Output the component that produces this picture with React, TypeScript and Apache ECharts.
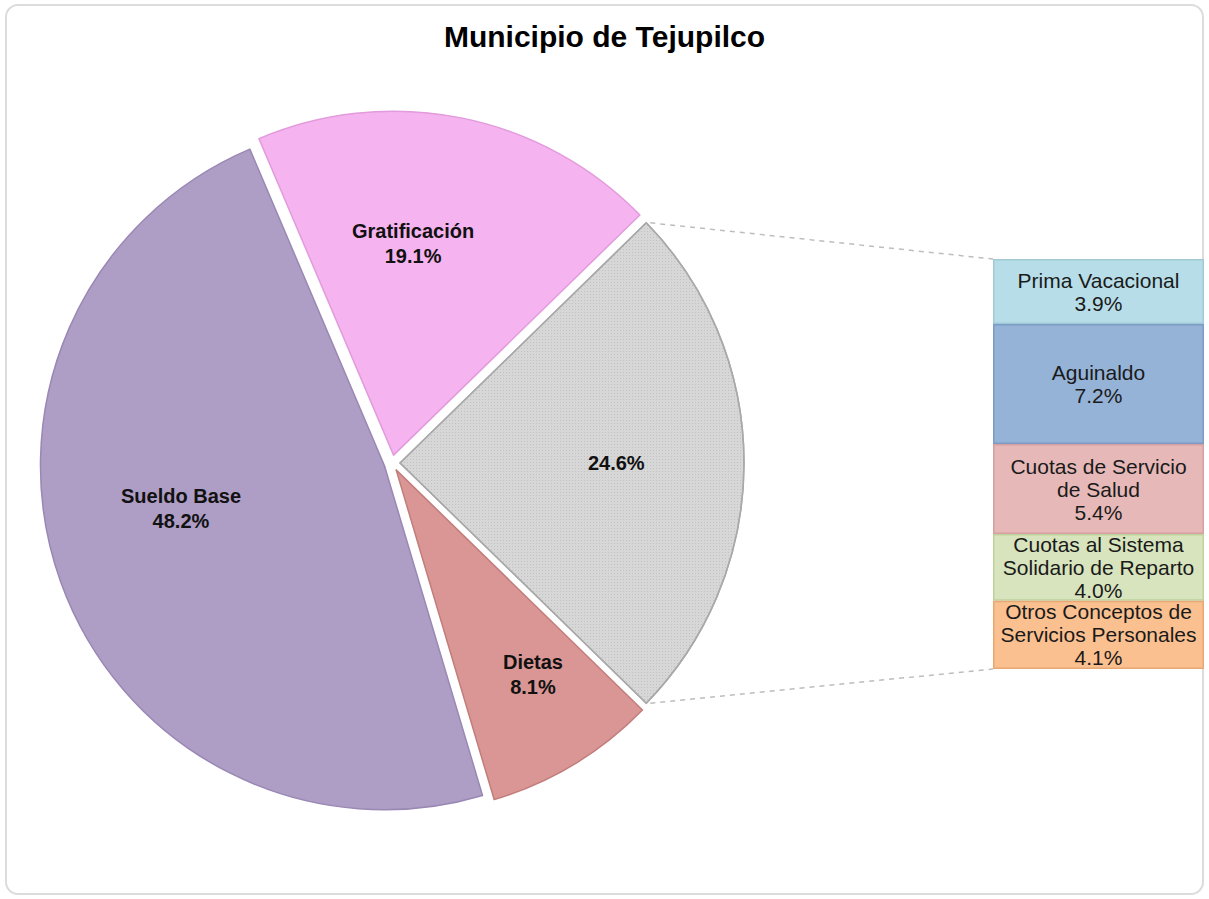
import React, { useEffect, useRef } from "react";
import * as echarts from "echarts";

const chartTitle = "Municipio de Tejupilco";

// Pie (main) slices, clockwise from the grouped "Otros" slice
const pieNames = ["Otros", "Dietas", "Sueldo Base", "Gratificación"];
const pieValues = [24.6, 8.1, 48.2, 19.1];
const pieColors = ["#d7d7d7", "#d99694", "#ae9dc5", "#f5b4ef"];
const pieBorders = ["#a9a9a9", "#c27d7b", "#9a88b4", "#e29bdc"];

// Breakdown of the "Otros" slice (stacked bar, top to bottom)
const barNames = [
  "Prima Vacacional",
  "Aguinaldo",
  "Cuotas de Servicio de Salud",
  "Cuotas al Sistema Solidario de Reparto",
  "Otros Conceptos de Servicios Personales",
];
const barLabels = [
  "Prima Vacacional",
  "Aguinaldo",
  "Cuotas de Servicio\nde Salud",
  "Cuotas al Sistema\nSolidario de Reparto",
  "Otros Conceptos de\nServicios Personales",
];
const barValues = [3.9, 7.2, 5.4, 4.0, 4.1];
const barColors = ["#b7dee8", "#95b3d7", "#e6b9b8", "#d7e4bd", "#fac090"];
const barBorders = ["#9fcad6", "#7c9cc6", "#d5a09f", "#bfd19c", "#e8a873"];

const FONT = "'Liberation Sans', Arial, Helvetica, sans-serif";

export default function App() {
  const ref = useRef<HTMLDivElement>(null);

  useEffect(() => {
    if (!ref.current) return;
    const chart = echarts.init(ref.current, undefined, { renderer: "svg" });

    const CX = 392;
    const CY = 463;
    const R = 344;
    const OFFSET = 8;
    const BAR_LEFT = 993;
    const BAR_TOP = 259;
    const BAR_W = 211;
    const BAR_H = 410;

    const total = pieValues.reduce((a, b) => a + b, 0);
    const barTotal = barValues.reduce((a, b) => a + b, 0);
    // center the grouped slice on 3 o'clock
    const startAngle = (pieValues[0] / total) * 180;
    const startCompass = ((90 - startAngle) * Math.PI) / 180;
    const endCompass = ((90 + startAngle) * Math.PI) / 180;
    const p1 = [CX + OFFSET + R * Math.sin(startCompass), CY - R * Math.cos(startCompass)];
    const p2 = [CX + OFFSET + R * Math.sin(endCompass), CY - R * Math.cos(endCompass)];

    const pieData = pieNames.map((n, i) => ({
      name: n,
      value: pieValues[i],
      selected: true,
      itemStyle: { color: pieColors[i], borderColor: pieBorders[i], borderWidth: 1.5 },
    }));
    pieData[0].itemStyle = {
      ...pieData[0].itemStyle,
      decal: {
        symbol: "rect",
        symbolSize: 1,
        dashArrayX: [1, 2],
        dashArrayY: [1, 2],
        color: "rgba(150,150,150,0.35)",
      },
    } as any;

    // label nudges so the texts sit where the reference places them
    const labelPads: number[][] = [
      [0, 0, 0, 0],
      [0, 0, 0, 50],
      [0, 0, 0, 0],
      [0, 46, 0, 0],
    ];
    const labelBefore = ["", "{g40| }\n", "", ""];
    const labelAfter = ["", "", "\n{g60| }", ""];
    const labelData = pieNames.map((n, i) => ({
      name: n,
      value: pieValues[i],
      selected: true,
      itemStyle: { color: "rgba(0,0,0,0)" },
      label: { padding: labelPads[i] },
    }));

    const barSeries = barNames.map((n, i) => ({
      type: "bar",
      name: n,
      stack: "otros",
      data: [barValues[i]],
      barWidth: "100%",
      itemStyle: { color: barColors[i], borderColor: barBorders[i], borderWidth: 1.5 },
      label: {
        show: true,
        position: "inside",
        formatter: () => barLabels[i] + "\n" + barValues[i].toFixed(1) + "%",
        fontFamily: FONT,
        fontSize: 21,
        lineHeight: 23,
        color: "#1a1a1a",
      },
      silent: true,
    }));

    chart.setOption({
      animation: false,
      backgroundColor: "#ffffff",
      title: {
        text: chartTitle,
        left: "center",
        top: 16,
        textStyle: { fontFamily: FONT, fontSize: 30, fontWeight: "bold", color: "#000" },
      },
      grid: { left: BAR_LEFT, top: BAR_TOP, width: BAR_W, height: BAR_H },
      xAxis: { type: "category", data: ["Otros"], show: false },
      yAxis: { type: "value", min: 0, max: barTotal, inverse: true, show: false },
      graphic: [
        {
          type: "rect",
          z: -10,
          silent: true,
          shape: { x: 6, y: 5, width: 1197, height: 889, r: 12 },
          style: { fill: "#fff", stroke: "#dcdcdc", lineWidth: 2 },
        },
        {
          type: "line",
          silent: true,
          shape: { x1: p1[0] + 4, y1: p1[1], x2: BAR_LEFT, y2: BAR_TOP },
          style: { stroke: "#bdbdbd", lineWidth: 1.5, lineDash: [5, 5] },
        },
        {
          type: "line",
          silent: true,
          shape: { x1: p2[0] + 4, y1: p2[1], x2: BAR_LEFT, y2: BAR_TOP + BAR_H },
          style: { stroke: "#bdbdbd", lineWidth: 1.5, lineDash: [5, 5] },
        },
      ],
      series: [
        {
          type: "pie",
          center: [CX, CY],
          radius: [0, R],
          startAngle,
          clockwise: true,
          selectedMode: "multiple",
          selectedOffset: OFFSET,
          silent: true,
          label: { show: false },
          labelLine: { show: false },
          emphasis: { disabled: true },
          data: pieData,
        },
        {
          type: "pie",
          center: [CX, CY],
          radius: [R * 0.24, R],
          startAngle,
          clockwise: true,
          selectedMode: "multiple",
          selectedOffset: OFFSET,
          silent: true,
          labelLine: { show: false },
          emphasis: { disabled: true },
          label: {
            show: true,
            position: "inside",
            formatter: (p: any) =>
              labelBefore[p.dataIndex] +
              (p.dataIndex === 0 ? "" : p.name + "\n") +
              p.value.toFixed(1) +
              "%" +
              labelAfter[p.dataIndex],
            fontFamily: FONT,
            fontSize: 20,
            fontWeight: "bold",
            lineHeight: 25,
            color: "#111",
            rich: {
              g40: { lineHeight: 40, fontSize: 10 },
              g60: { lineHeight: 60, fontSize: 10 },
            },
          },
          data: labelData,
        },
        ...barSeries,
      ],
    });

    return () => chart.dispose();
  }, []);

  return (
    <div
      ref={ref}
      style={{ position: "fixed", left: 0, top: 0, width: "1209px", height: "899px" }}
    />
  );
}
